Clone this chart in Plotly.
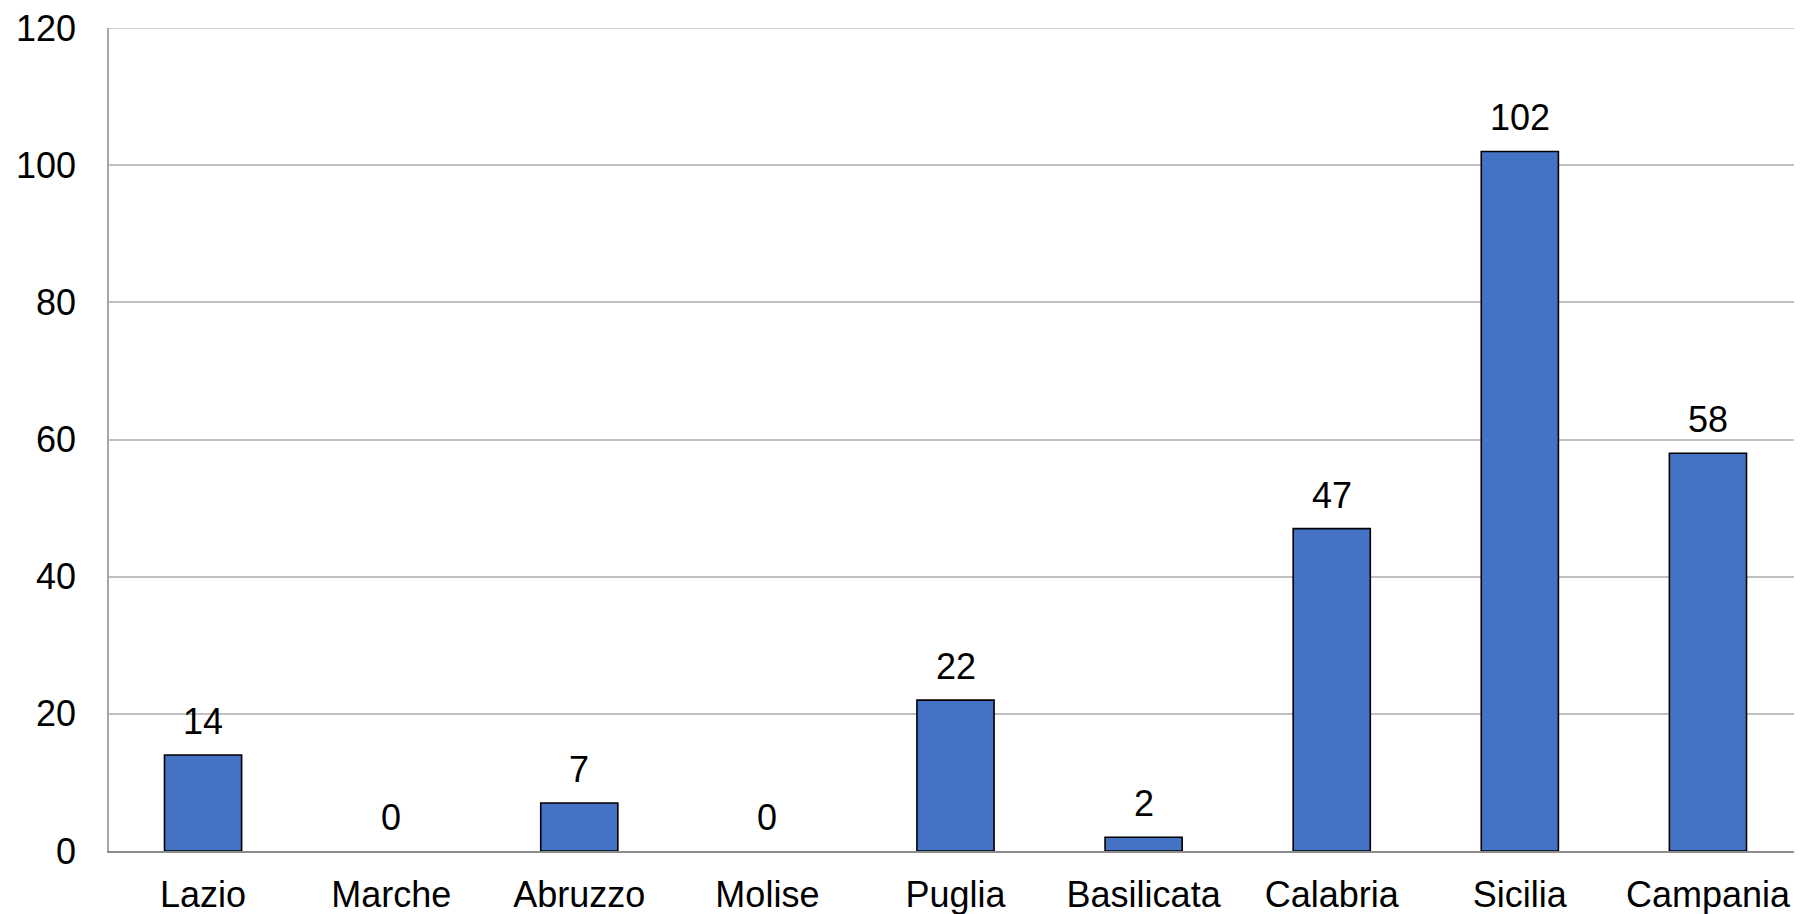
import plotly.graph_objects as go

regions = ["Lazio", "Marche", "Abruzzo", "Molise", "Puglia", "Basilicata", "Calabria", "Sicilia", "Campania"]
values = [14, 0, 7, 0, 22, 2, 47, 102, 58]
y_ticks = [0, 20, 40, 60, 80, 100, 120]

FONT = "Liberation Sans, Arial, sans-serif"
GRID = "#bfbfbf"

fig = go.Figure()
fig.add_trace(go.Bar(
    x=regions, y=values,
    marker=dict(
        color="#4472C4",
        line=dict(color="#000000", width=[1.6 if v > 0 else 0 for v in values]),
    ),
    width=0.41,
    hoverinfo="x+y",
))

for r, v in zip(regions, values):
    fig.add_annotation(
        x=r, y=v, text=str(v), showarrow=False,
        yanchor="bottom", yshift=11,
        font=dict(family=FONT, size=36, color="#000000"),
    )

# top gridline (plotly skips the gridline at the range edge)
fig.add_shape(
    type="line", xref="paper", yref="y",
    x0=0, x1=1, y0=y_ticks[-1], y1=y_ticks[-1],
    line=dict(color=GRID, width=1.5), layer="below",
)

fig.update_layout(
    width=1794, height=906,
    margin=dict(l=101, r=0, t=20, b=63, autoexpand=False),
    paper_bgcolor="white", plot_bgcolor="white",
    showlegend=False,
    font=dict(family=FONT, size=36, color="#000000"),
    xaxis=dict(
        showline=True, linecolor="#8c8c8c", linewidth=2,
        showgrid=False, ticks="", ticklabelstandoff=11,
        ticklabeloverflow="allow",
        tickfont=dict(family=FONT, size=36, color="#000000"),
        range=[-0.5, len(regions) - 0.5],
    ),
    yaxis=dict(
        range=[0, y_ticks[-1]], tickvals=y_ticks,
        showgrid=True, gridcolor=GRID, gridwidth=1.5,
        showline=True, linecolor="#a6a6a6", linewidth=1.5,
        zeroline=False, ticks="", ticklabelstandoff=24,
        ticklabeloverflow="allow",
        tickfont=dict(family=FONT, size=36, color="#000000"),
    ),
)

fig.write_html("out.html")
